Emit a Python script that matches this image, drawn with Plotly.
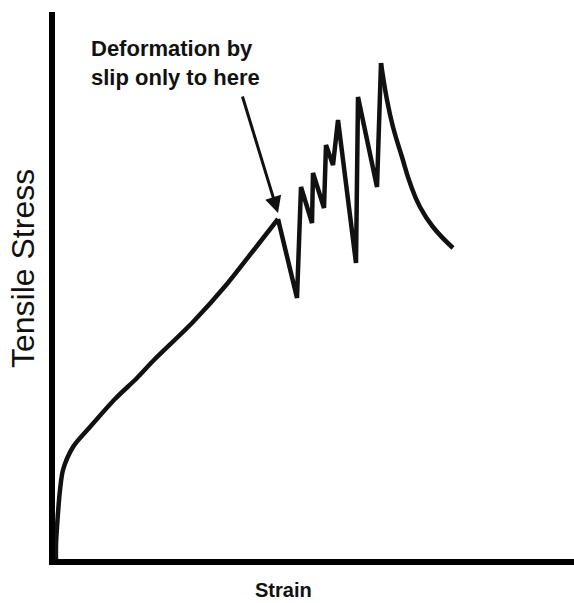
import plotly.graph_objects as go

# Schematic stress-strain curve (arbitrary units)
load_strain = [1, 1, 2, 5, 8, 18, 35, 60, 82, 98, 138, 172, 198, 223]
load_stress = [0, 14, 32, 69, 89, 112, 132, 160, 181, 198, 237, 275, 308, 340]

twin_strain = [223, 242, 246, 257, 258, 269, 271, 278, 283, 301, 303, 322, 326]
twin_stress = [340, 261, 372, 336, 386, 351, 414, 394, 439, 296, 462, 372, 496]

decay_strain = [326, 332, 338, 347, 355, 365, 378, 398]
decay_stress = [496, 459, 432, 402, 376, 352, 332, 311]

arrow_tail = (187, 464)
annotation_text = "<b>Deformation by<br>slip only to here</b>"
x_title = "<b>Strain</b>"
y_title = "Tensile Stress"

LINE = dict(color="#111111", width=4.5)

fig = go.Figure()
fig.add_trace(go.Scatter(x=load_strain, y=load_stress, mode="lines",
                         line=dict(LINE, shape="spline", smoothing=0.8),
                         hoverinfo="skip", showlegend=False))
fig.add_trace(go.Scatter(x=twin_strain, y=twin_stress, mode="lines",
                         line=dict(LINE, shape="linear"),
                         hoverinfo="skip", showlegend=False))
fig.add_trace(go.Scatter(x=decay_strain, y=decay_stress, mode="lines",
                         line=dict(LINE, shape="spline", smoothing=1.3),
                         hoverinfo="skip", showlegend=False))

# Arrow pointing to end of slip region
fig.add_annotation(x=load_strain[-1], y=load_stress[-1] + 6, xref="x", yref="y",
                   ax=arrow_tail[0], ay=arrow_tail[1], axref="x", ayref="y",
                   text="", showarrow=True, arrowhead=2, arrowsize=1.1,
                   arrowwidth=3, arrowcolor="#111111")

fig.add_annotation(x=34, y=525, xref="x", yref="y", text=annotation_text,
                   showarrow=False, xanchor="left", yanchor="top", align="left",
                   font=dict(family="Liberation Sans, Arial", size=22, color="#111111"))
fig.add_annotation(x=-0.0617, y=0.532, xref="paper", yref="paper", text=y_title,
                   showarrow=False, textangle=-90, xanchor="center", yanchor="middle",
                   font=dict(family="Liberation Sans, Arial", size=32, color="#111111"))
fig.add_annotation(x=0.441, y=-0.0804, xref="paper", yref="paper", text=x_title,
                   showarrow=False, xanchor="center", yanchor="bottom",
                   font=dict(family="Liberation Sans, Arial", size=20, color="#111111"))

fig.update_xaxes(range=[0, 519], showgrid=False, zeroline=False, showticklabels=False,
                 ticks="", showline=True, linewidth=6, linecolor="#000000", fixedrange=True)
fig.update_yaxes(range=[0, 547], showgrid=False, zeroline=False, showticklabels=False,
                 ticks="", showline=True, linewidth=6, linecolor="#000000", fixedrange=True)
fig.update_layout(width=574, height=603, margin=dict(l=55, r=0, t=12, b=44),
                  plot_bgcolor="white", paper_bgcolor="white")

fig.write_html("out.html", config={"displayModeBar": False},
               post_script="document.body.style.margin='0';document.body.style.overflow='hidden';")
